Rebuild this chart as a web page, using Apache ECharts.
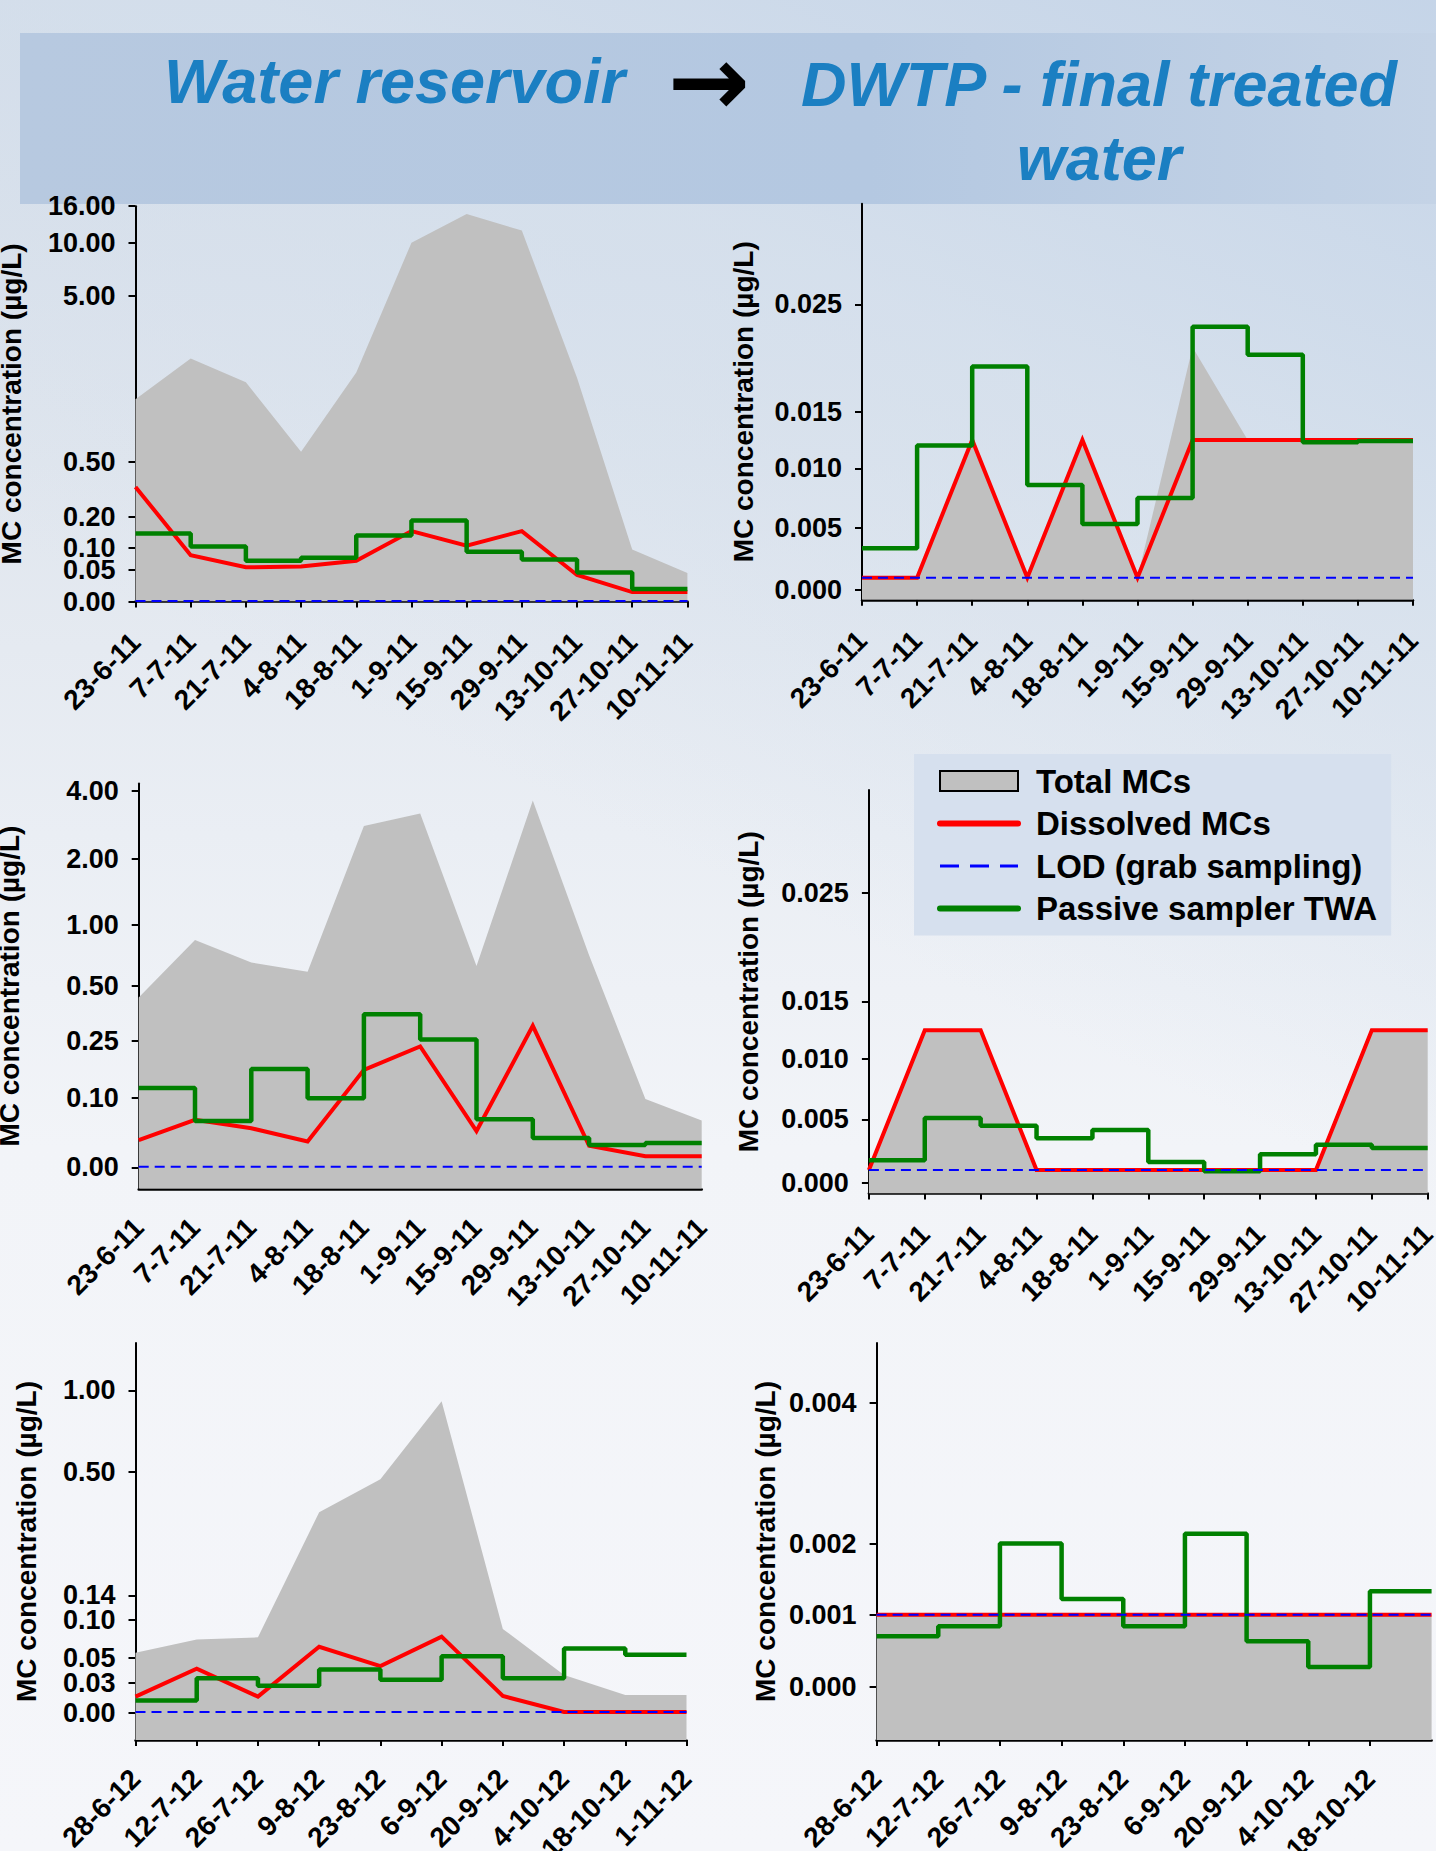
<!DOCTYPE html>
<html>
<head>
<meta charset="utf-8">
<script src="https://cdn.jsdelivr.net/npm/echarts@6/dist/echarts.min.js"></script>
<style>
html, body { margin: 0; padding: 0; width: 1436px; height: 1851px; overflow: hidden; }
body {
  background:
    linear-gradient(205deg, rgba(196,212,232,0.95) 0%, rgba(210,222,236,0.7) 22%, rgba(236,240,246,0) 48%),
    linear-gradient(180deg, #d6dee9 0%, #e0e6ee 25%, #eaeef4 45%, #f2f4f8 62%, #f5f6fa 100%);
}
#chart { width: 1436px; height: 1851px; }
</style>
</head>
<body>
<div id="chart"></div>
<script>
// ---------------- DATA ----------------
const dates2011 = ['23-6-11','7-7-11','21-7-11','4-8-11','18-8-11','1-9-11','15-9-11','29-9-11','13-10-11','27-10-11','10-11-11'];
const dates2012 = ['28-6-12','12-7-12','26-7-12','9-8-12','23-8-12','6-9-12','20-9-12','4-10-12','18-10-12','1-11-12'];

const LOD = 0.001;

// Panel A: water reservoir, 2011 (top left)
const totalA     = [2.2, 3.3, 2.66, 0.78, 2.92, 10.0, 14.7, 12.0, 2.78, 0.097, 0.045];
const dissolvedA = [0.363, 0.084, 0.056, 0.058, 0.071, 0.154, 0.108, 0.154, 0.042, 0.015, 0.015];
const passiveA   = [0.146, 0.105, 0.071, 0.078, 0.140, 0.187, 0.092, 0.074, 0.046, 0.020, 0.020];
const ticksA     = ['0.00','0.05','0.10','0.20','0.50','5.00','10.00','16.00'];

// Panel B: DWTP final treated water, 2011 (top right)
const totalB     = [0.001, 0.001, 0.0125, 0.001, 0.0125, 0.001, 0.021, 0.0125, 0.0125, 0.0125, 0.0125];
const dissolvedB = [0.001, 0.001, 0.0125, 0.001, 0.0125, 0.001, 0.0125, 0.0125, 0.0125, 0.0125, 0.0125];
const passiveB   = [0.00335, 0.012, 0.0192, 0.0086, 0.0053, 0.0075, 0.0229, 0.0203, 0.0123, 0.0124, 0.0124];
const ticksB     = ['0.000','0.005','0.010','0.015','0.025'];

// Panel C: water reservoir, 2011 (middle left)
const totalC     = [0.447, 0.874, 0.69, 0.615, 2.97, 3.34, 0.663, 3.72, 0.75, 0.098, 0.067];
const dissolvedC = [0.039, 0.068, 0.056, 0.037, 0.173, 0.235, 0.052, 0.318, 0.031, 0.016, 0.016];
const passiveC   = [0.125, 0.0665, 0.175, 0.099, 0.371, 0.255, 0.069, 0.042, 0.032, 0.035, 0.035];
const ticksC     = ['0.00','0.10','0.25','0.50','1.00','2.00','4.00'];

// Panel D: DWTP final treated water, 2011 (middle right)
const totalD     = [0.001, 0.0125, 0.0125, 0.001, 0.001, 0.001, 0.001, 0.001, 0.001, 0.0125, 0.0125];
const dissolvedD = [0.001, 0.0125, 0.0125, 0.001, 0.001, 0.001, 0.001, 0.001, 0.001, 0.0125, 0.0125];
const passiveD   = [0.00177, 0.0051, 0.0045, 0.0035, 0.00416, 0.00163, 0.0009, 0.00225, 0.003, 0.00275, 0.00275];
const ticksD     = ['0.000','0.005','0.010','0.015','0.025'];

// Panel E: water reservoir, 2012 (bottom left)
const totalE     = [0.057, 0.074, 0.077, 0.382, 0.478, 0.933, 0.088, 0.0365, 0.018, 0.018];
const dissolvedE = [0.0164, 0.0414, 0.0164, 0.0646, 0.0435, 0.0779, 0.017, 0.001, 0.001, 0.001];
const passiveE   = [0.0126, 0.0338, 0.0273, 0.0408, 0.0327, 0.0522, 0.0338, 0.0624, 0.0544, 0.0544];
const ticksE     = ['0.00','0.03','0.05','0.10','0.14','0.50','1.00'];

// Panel F: DWTP final treated water, 2012 (bottom right)
const totalF     = [0.001, 0.001, 0.001, 0.001, 0.001, 0.001, 0.001, 0.001, 0.001, 0.001];
const dissolvedF = [0.001, 0.001, 0.001, 0.001, 0.001, 0.001, 0.001, 0.001, 0.001, 0.001];
const passiveF   = [0.0007, 0.00084, 0.002, 0.00122, 0.00084, 0.00214, 0.00063, 0.00027, 0.00133, 0.00133];
const ticksF     = ['0.000','0.001','0.002','0.004'];

// ---------------- LAYOUT / SCALES ----------------
// Each panel uses a piecewise (broken) y scale: tick label -> axis unit position.
const FONT = "'Liberation Sans', Arial, Helvetica, sans-serif";
const panels = [
  { cats: dates2011, total: totalA, dis: dissolvedA, pas: passiveA, ticks: ticksA,
    pos: [0, 31.7, 53.4, 85.1, 139.5, 305.9, 358.9, 395.4], min: 0, max: 395.4,
    grid: { left: 135.5, top: 206.2, width: 551.9, height: 395.4 }, nameGap: 110, xTick: true, labelMargin: 36 },
  { cats: dates2011, total: totalB, dis: dissolvedB, pas: passiveB, ticks: ticksB,
    pos: [0, 62.7, 121.9, 178.7, 285.9], min: -9.6, max: 386.4,
    grid: { left: 862, top: 203.8, width: 551, height: 396 }, nameGap: 105, xTick: true, labelMargin: 36 },
  { cats: dates2011, total: totalC, dis: dissolvedC, pas: passiveC, ticks: ticksC,
    pos: [0, 69.9, 126.7, 181.5, 242.8, 308.2, 376.4], min: -21.4, max: 384,
    grid: { left: 138.7, top: 783.4, width: 563, height: 405.4 }, nameGap: 115, xTick: false, labelMargin: 34 },
  { cats: dates2011, total: totalD, dis: dissolvedD, pas: passiveD, ticks: ticksD,
    pos: [0, 63.5, 123.9, 181.4, 290], min: -10.7, max: 392.8,
    grid: { left: 868.9, top: 790, width: 558.8, height: 403.5 }, nameGap: 106, xTick: true, labelMargin: 36 },
  { cats: dates2012, total: totalE, dis: dissolvedE, pas: passiveE, ticks: ticksE,
    pos: [0, 29.8, 54.9, 93.2, 117.5, 241.2, 322.5], min: -27.1, max: 369.9,
    grid: { left: 135.5, top: 1343, width: 551, height: 397 }, nameGap: 95, xTick: true, labelMargin: 34 },
  { cats: dates2012, total: totalF, dis: dissolvedF, pas: passiveF, ticks: ticksF,
    pos: [0, 71.8, 143, 283.5], min: -53.5, max: 343.5,
    grid: { left: 876.6, top: 1343, width: 555, height: 397 }, nameGap: 97, xTick: true, labelMargin: 34, hideLast: true }
];

function makeScale(ticks, pos) {
  const vals = ticks.map(Number);
  return function (v) {
    let i = 0;
    while (i < vals.length - 2 && v > vals[i + 1]) i++;
    const t = (v - vals[i]) / (vals[i + 1] - vals[i]);
    return pos[i] + t * (pos[i + 1] - pos[i]);
  };
}

const RED = '#ff0000', GREEN = '#008000', BLUE = '#0000ff', GRAY = '#c0c0c0';

const grids = [], xAxes = [], yAxes = [], series = [];
panels.forEach((p, i) => {
  const toU = makeScale(p.ticks, p.pos);
  grids.push(Object.assign({ containLabel: false, outerBoundsMode: 'none' }, p.grid));
  const lastIdx = p.cats.length - 1;
  xAxes.push({
    type: 'category', gridIndex: i, data: p.cats, boundaryGap: false,
    axisLine: { show: true, onZero: false, lineStyle: { color: '#000', width: 2.5 } },
    axisTick: { show: p.xTick, length: 6, lineStyle: { color: '#000', width: 2 },
      interval: p.hideLast ? ((idx) => idx < lastIdx) : 0 },
    axisLabel: { rotate: 45, margin: p.labelMargin, color: '#000', fontSize: 28, fontWeight: 'bold',
      fontFamily: FONT, interval: p.hideLast ? ((idx) => idx < lastIdx) : 0, hideOverlap: false },
    splitLine: { show: false }
  });
  yAxes.push({
    type: 'value', gridIndex: i, min: p.min, max: p.max,
    name: 'MC concentration (µg/L)', nameLocation: 'middle', nameGap: p.nameGap, nameMoveOverlap: false,
    nameTextStyle: { color: '#000', fontSize: 28, fontWeight: 'bold', fontFamily: FONT },
    axisLine: { show: true, onZero: false, lineStyle: { color: '#000', width: 2 } },
    axisTick: { show: true, length: 7, customValues: p.pos, lineStyle: { color: '#000', width: 2 } },
    axisLabel: { customValues: p.pos, margin: 20, color: '#000', fontSize: 27, fontWeight: 'bold', fontFamily: FONT,
      hideOverlap: false, showMinLabel: true, showMaxLabel: true,
      formatter: (val) => { const k = p.pos.findIndex(q => Math.abs(q - val) < 0.05); return k >= 0 ? p.ticks[k] : ''; } },
    splitLine: { show: false }
  });
  series.push({
    name: 'Total MCs', type: 'line', xAxisIndex: i, yAxisIndex: i, symbol: 'none', silent: true,
    data: p.total.map(toU), lineStyle: { width: 0, color: GRAY },
    itemStyle: { color: GRAY, borderColor: '#000', borderWidth: 2 },
    areaStyle: { color: GRAY, opacity: 1, origin: 'start' }, z: 1
  });
  series.push({
    name: 'Dissolved MCs', type: 'line', xAxisIndex: i, yAxisIndex: i, symbol: 'none', silent: true,
    data: p.dis.map(toU), lineStyle: { width: 4, color: RED, join: 'miter' }, itemStyle: { color: RED }, z: 2
  });
  series.push({
    name: 'Passive sampler TWA', type: 'line', xAxisIndex: i, yAxisIndex: i, symbol: 'none', silent: true,
    step: 'end', data: p.pas.map(toU), lineStyle: { width: 4.5, color: GREEN }, itemStyle: { color: GREEN }, z: 3
  });
  series.push({
    name: 'LOD (grab sampling)', type: 'line', xAxisIndex: i, yAxisIndex: i, symbol: 'none', silent: true,
    data: [[p.cats[0], toU(LOD)], [p.cats[lastIdx], toU(LOD)]],
    lineStyle: { width: 2, color: BLUE, type: [10, 6] }, itemStyle: { color: BLUE }, z: 4
  });
});

const chart = echarts.init(document.getElementById('chart'), null, { renderer: 'svg', width: 1436, height: 1851 });
chart.setOption({
  animation: false,
  backgroundColor: 'transparent',
  graphic: [
    { type: 'rect', left: 20, top: 33, shape: { width: 1416, height: 171 }, silent: true, z: -10,
      style: { fill: { type: 'linear', x: 0, y: 0, x2: 1, y2: 0,
        colorStops: [{ offset: 0, color: '#b7c9e0' }, { offset: 0.6, color: '#b4c8e1' }, { offset: 1, color: '#c4d3e6' }] } } },
    { type: 'text', left: 164, top: 49, silent: true,
      style: { text: 'Water reservoir', fill: '#1b7fc2', font: "italic bold 63px 'Liberation Sans', Arial, sans-serif" } },
    { type: 'text', left: 668, top: 32, silent: true,
      style: { text: '→', fill: '#000', font: "bold 98px 'DejaVu Sans', sans-serif" } },
    { type: 'text', x: 1099, y: 47, silent: true,
      style: { text: 'DWTP - final treated\nwater', fill: '#1b7fc2', align: 'center', verticalAlign: 'top',
        lineHeight: 74, font: "italic bold 63px 'Liberation Sans', Arial, sans-serif" } }
  ],
  legend: {
    left: 914, top: 754, orient: 'vertical', itemWidth: 78, itemHeight: 20, itemGap: 6.5,
    padding: [9, 14, 9, 23], backgroundColor: '#d6e0ee', selectedMode: false,
    textStyle: { color: '#000', fontSize: 33, fontWeight: 'bold', fontFamily: FONT, lineHeight: 36, padding: [0, 0, 0, 13] },
    data: [
      { name: 'Total MCs', icon: 'rect', itemStyle: { color: GRAY, borderColor: '#000', borderWidth: 2 } },
      { name: 'Dissolved MCs', itemStyle: { opacity: 0 }, lineStyle: { width: 6, color: RED, cap: 'round' } },
      { name: 'LOD (grab sampling)', itemStyle: { opacity: 0 }, lineStyle: { width: 3, color: BLUE, type: [19, 11] } },
      { name: 'Passive sampler TWA', itemStyle: { opacity: 0 }, lineStyle: { width: 6, color: GREEN, cap: 'round' } }
    ]
  },
  grid: grids, xAxis: xAxes, yAxis: yAxes, series: series
});
</script>
</body>
</html>
